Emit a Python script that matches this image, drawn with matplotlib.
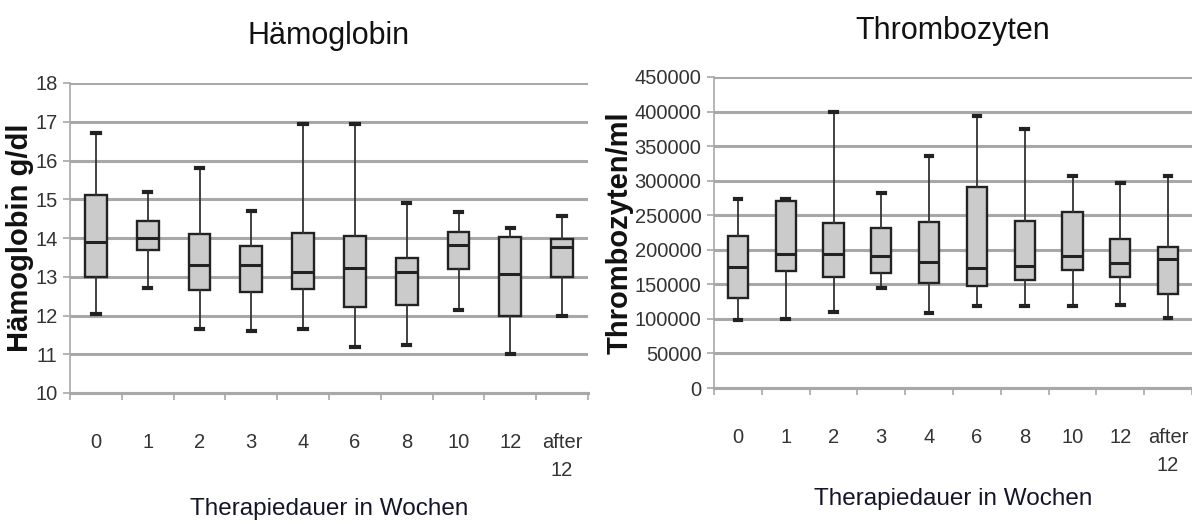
import matplotlib
matplotlib.use("Agg")
import matplotlib.pyplot as plt
import numpy as np

# categories (therapy duration in weeks)
weeks = ["0", "1", "2", "3", "4", "6", "8", "10", "12", "after\n12"]

# Haemoglobin g/dl  (whisker low, q1, median, q3, whisker high)
hb_low = [12.05, 12.7, 11.65, 11.6, 11.65, 11.2, 11.25, 12.15, 11.0, 12.0]
hb_q1 = [13.0, 13.7, 12.65, 12.6, 12.68, 12.22, 12.27, 13.2, 12.0, 13.0]
hb_med = [13.9, 14.0, 13.3, 13.3, 13.12, 13.23, 13.12, 13.82, 13.07, 13.78]
hb_q3 = [15.1, 14.45, 14.1, 13.8, 14.13, 14.05, 13.48, 14.15, 14.03, 13.97]
hb_high = [16.7, 15.2, 15.8, 14.7, 16.95, 16.95, 14.9, 14.67, 14.26, 14.57]

# platelets / ml
pl_low = [98000, 100000, 110000, 145000, 108000, 119000, 119000, 118000, 120000, 102000]
pl_q1 = [130000, 169000, 161000, 166000, 152000, 147000, 156000, 171000, 160000, 136000]
pl_med = [175000, 194000, 194000, 191000, 182000, 174000, 176000, 191000, 181000, 187000]
pl_q3 = [220000, 270000, 239000, 231000, 240000, 291000, 241000, 254000, 216000, 204000]
pl_high = [273000, 273000, 400000, 282000, 336000, 394000, 375000, 307000, 296000, 307000]

font = "Liberation Sans"
tick_col = "#333333"
grid_col = "#a8a8a8"


def make_stats(lo, q1, med, q3, hi):
    return [dict(whislo=a, q1=b, med=c, q3=d, whishi=e, fliers=[])
            for a, b, c, d, e in zip(lo, q1, med, q3, hi)]


def draw(ax, stats, yticks, title, ylabel, title_pad):
    n = len(stats)
    ax.bxp(stats, positions=np.arange(1, n + 1), widths=0.42,
           capwidths=0.14, patch_artist=True, showfliers=False,
           boxprops=dict(facecolor="#cbcbcb", edgecolor="#222222", linewidth=1.7),
           medianprops=dict(color="#222222", linewidth=2.2),
           whiskerprops=dict(color="#333333", linewidth=1.3),
           capprops=dict(color="#222222", linewidth=3.0),
           zorder=3)
    ax.set_xlim(0.5, n + 0.5)
    ax.set_ylim(yticks[0], yticks[-1])
    ax.set_yticks(yticks)
    ax.yaxis.grid(True, color=grid_col, linewidth=2.2, zorder=0)
    ax.set_axisbelow(True)
    for s in ["top", "right"]:
        ax.spines[s].set_visible(False)
    ax.spines["left"].set_color(grid_col)
    ax.spines["left"].set_linewidth(1.2)
    ax.spines["bottom"].set_color(grid_col)
    ax.spines["bottom"].set_linewidth(2.2)
    ax.set_xticks(np.arange(1, n + 1))
    ax.set_xticklabels(weeks, family=font, fontsize=14.5, color=tick_col,
                       ha="center", va="top", linespacing=1.6)
    ax.set_xticks(np.arange(0.5, n + 1, 1.0), minor=True)
    ax.tick_params(axis="x", which="major", length=0, pad=29)
    ax.tick_params(axis="x", which="minor", length=5, width=1.2, color=grid_col)
    ax.tick_params(axis="y", length=5, width=1.2, color=grid_col,
                   labelcolor=tick_col, pad=4)
    for lab in ax.get_yticklabels():
        lab.set_family(font)
        lab.set_fontsize(14.5)
    ax.set_title(title, family=font, fontsize=22, color="#111111", pad=title_pad)
    ax.set_ylabel(ylabel, family=font, fontweight="bold", fontsize=21,
                  color="#111111", labelpad=1)


fig = plt.figure(figsize=(11.92, 5.24), dpi=100)

ax1 = fig.add_axes([70 / 1192, 131 / 524, 518 / 1192, 310 / 524])
draw(ax1, make_stats(hb_low, hb_q1, hb_med, hb_q3, hb_high),
     np.arange(10, 19, 1), "Hämoglobin", "Hämoglobin g/dl", 28)
ax1.set_xlabel("Therapiedauer in Wochen", family=font, fontsize=17.5,
               color="#15152a", labelpad=13)

ax2 = fig.add_axes([714 / 1192, 136 / 524, 478 / 1192, 311 / 524])
draw(ax2, make_stats(pl_low, pl_q1, pl_med, pl_q3, pl_high),
     np.arange(0, 450001, 50000), "Thrombozyten", "Thrombozyten/ml", 27)
ax2.set_xlabel("Therapiedauer in Wochen", family=font, fontsize=17.5,
               color="#15152a", labelpad=9)

fig.savefig("out.png", dpi=100)
